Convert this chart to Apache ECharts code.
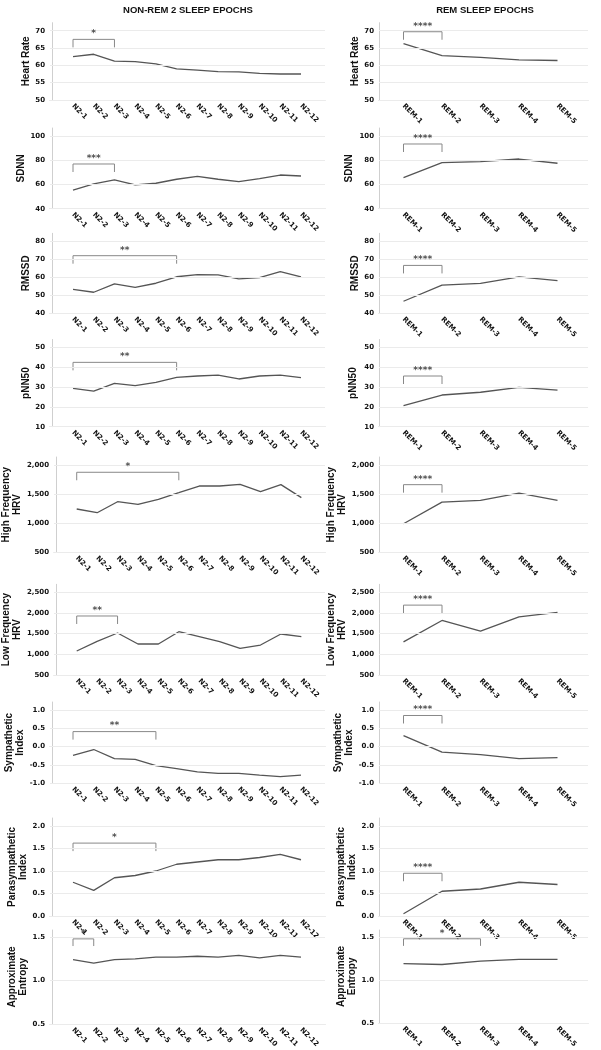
<!DOCTYPE html>
<html><head><meta charset="utf-8">
<script src="https://cdn.jsdelivr.net/npm/echarts@6/dist/echarts.min.js"></script>
<style>html,body{margin:0;padding:0;background:#fff}#c{width:601px;height:1050px}</style>
</head><body><div id="c"></div>
<script>
// ---------------- DATA ----------------
const n2Categories = ['N2-1','N2-2','N2-3','N2-4','N2-5','N2-6','N2-7','N2-8','N2-9','N2-10','N2-11','N2-12'];
const remCategories = ['REM-1','REM-2','REM-3','REM-4','REM-5'];
const columnTitles = ['NON-REM 2 SLEEP EPOCHS', 'REM SLEEP EPOCHS'];
const metricNames = ['Heart Rate','SDNN','RMSSD','pNN50','High Frequency\nHRV','Low Frequency\nHRV','Sympathetic\nIndex','Parasympathetic\nIndex','Approximate\nEntropy'];

const hrTicks = [50, 55, 60, 65, 70];
const sdnnTicks = [40, 60, 80, 100];
const rmssdTicks = [40, 50, 60, 70, 80];
const pnn50Ticks = [10, 20, 30, 40, 50];
const hfTicks = [500, 1000, 1500, 2000];
const lfTicks = [500, 1000, 1500, 2000, 2500];
const sympTicks = [-1.0, -0.5, 0.0, 0.5, 1.0];
const paraTicks = [0.0, 0.5, 1.0, 1.5, 2.0];
const apenTicks = [0.5, 1.0, 1.5];

const hrN2 = [62.5, 63.2, 61.2, 61.1, 60.4, 59.0, 58.6, 58.2, 58.1, 57.7, 57.5, 57.5];
const hrREM = [66.3, 62.8, 62.3, 61.6, 61.4];
const sdnnN2 = [55.4, 60.4, 63.7, 59.6, 61.0, 64.3, 66.7, 64.3, 62.3, 64.8, 67.8, 67.0];
const sdnnREM = [65.6, 78.0, 78.8, 81.0, 77.5];
const rmssdN2 = [53.3, 51.7, 56.4, 54.4, 56.7, 60.3, 61.5, 61.3, 59.1, 59.8, 63.1, 60.2];
const rmssdREM = [46.7, 55.7, 56.6, 60.2, 58.1];
const pnn50N2 = [29.4, 28.0, 31.9, 30.7, 32.4, 34.9, 35.6, 36.0, 34.1, 35.6, 36.0, 34.8];
const pnn50REM = [20.6, 26.0, 27.4, 29.9, 28.5];
const hfN2 = [1244, 1180, 1369, 1325, 1411, 1524, 1639, 1639, 1668, 1541, 1662, 1440];
const hfREM = [990, 1362, 1391, 1517, 1391];
const lfN2 = [1080, 1315, 1516, 1250, 1250, 1547, 1426, 1305, 1145, 1225, 1492, 1426];
const lfREM = [1300, 1819, 1563, 1905, 2012];
const sympN2 = [-0.24, -0.08, -0.33, -0.35, -0.52, -0.60, -0.69, -0.73, -0.73, -0.78, -0.82, -0.78];
const sympREM = [0.30, -0.15, -0.22, -0.33, -0.30];
const paraN2 = [0.75, 0.57, 0.85, 0.90, 1.00, 1.15, 1.20, 1.25, 1.25, 1.30, 1.37, 1.25];
const paraREM = [0.05, 0.55, 0.60, 0.75, 0.70];
const apenN2 = [1.24, 1.20, 1.24, 1.25, 1.27, 1.27, 1.28, 1.27, 1.29, 1.26, 1.29, 1.27];
const apenREM = [1.19, 1.18, 1.22, 1.24, 1.24];

// significance brackets: [from epoch, to epoch, stars]
const hrN2Sig = [1, 3, '*'],      hrREMSig = [1, 2, '****'];
const sdnnN2Sig = [1, 3, '***'],  sdnnREMSig = [1, 2, '****'];
const rmssdN2Sig = [1, 6, '**'],  rmssdREMSig = [1, 2, '****'];
const pnn50N2Sig = [1, 6, '**'],  pnn50REMSig = [1, 2, '****'];
const hfN2Sig = [1, 6, '*'],      hfREMSig = [1, 2, '****'];
const lfN2Sig = [1, 3, '**'],     lfREMSig = [1, 2, '****'];
const sympN2Sig = [1, 5, '**'],   sympREMSig = [1, 2, '****'];
const paraN2Sig = [1, 5, '*'],    paraREMSig = [1, 2, '****'];
const apenN2Sig = [1, 2, '*'],    apenREMSig = [1, 3, '*'];

// ---------------- LAYOUT ----------------
// pixel rows of the top and bottom tick of each metric row
const rowPx = [[30.7,100],[136,208.7],[241.3,313.3],[347.5,426.7],[465,552.3],[592.3,675],[710,783.2],[826,916],[938,1035]];
// bracket heights (axis units) [left, right]
const bracketTop = [[67.5,69.7],[76.9,93.4],[72,66.6],[42.5,35.6],[1875,1662],[1927,2190],[0.41,0.85],[1.62,0.95],[1.48,1.48]];
const nameGaps = [[15,17],[15,24],[15,17],[15,20],[23,26],[23,26],[19,17],[19,19],[19,17]];
const cols = [
  {left:50, right:325, firstPx:73, lastPx:301, titleX:188},
  {left:379, right:588, firstPx:403.5, lastPx:557.5, titleX:485}
];

const rows = [
  [hrTicks, hrN2, hrREM, hrN2Sig, hrREMSig],
  [sdnnTicks, sdnnN2, sdnnREM, sdnnN2Sig, sdnnREMSig],
  [rmssdTicks, rmssdN2, rmssdREM, rmssdN2Sig, rmssdREMSig],
  [pnn50Ticks, pnn50N2, pnn50REM, pnn50N2Sig, pnn50REMSig],
  [hfTicks, hfN2, hfREM, hfN2Sig, hfREMSig],
  [lfTicks, lfN2, lfREM, lfN2Sig, lfREMSig],
  [sympTicks, sympN2, sympREM, sympN2Sig, sympREMSig],
  [paraTicks, paraN2, paraREM, paraN2Sig, paraREMSig],
  [apenTicks, apenN2, apenREM, apenN2Sig, apenREMSig]
];

const EXT = 8; // axis extension above top tick (px)
const grids = [], xAxes = [], yAxes = [], series = [];
const lab = {fontFamily:'DejaVu Sans', fontSize:7, color:'#111', fontWeight:'bold'};

rows.forEach((r, ri) => {
  const ticks = r[0];
  const tMin = ticks[0], tMax = ticks[ticks.length-1];
  const [pxTop, pxBot] = rowPx[ri];
  const upp = (tMax - tMin) / (pxBot - pxTop);
  const yMax = tMax + EXT * upp;
  const dec = ticks.some(t => Math.abs(t - Math.round(t)) > 1e-9);
  [0, 1].forEach(ci => {
    const c = cols[ci];
    const cats = ci === 0 ? n2Categories : remCategories;
    const vals = ci === 0 ? r[1] : r[2];
    const sig = ci === 0 ? r[3] : r[4];
    const n = cats.length;
    const sp = (c.lastPx - c.firstPx) / (n - 1);
    const xMin = 1 - (c.firstPx - c.left) / sp;
    const xMax = n + (c.right - c.lastPx) / sp;
    const gi = grids.length;
    grids.push({left:c.left, top:pxTop - EXT, width:c.right - c.left, height:pxBot - pxTop + EXT});
    const idx = [];
    for (let i = 1; i <= n; i++) idx.push(i);
    xAxes.push({
      type:'value', gridIndex:gi, min:xMin, max:xMax,
      splitLine:{show:false}, axisTick:{show:false},
      axisLine:{show:true, lineStyle:{color:'#cfcfcf', width:1}},
      axisLabel:{customValues:idx, rotate:-45, margin:5, ...lab,
        formatter:v => cats[Math.round(v)-1] || ''}
    });
    yAxes.push({
      type:'value', gridIndex:gi, min:tMin, max:yMax,
      name:metricNames[ri], nameLocation:'middle', nameRotate:90, nameGap:nameGaps[ri][ci],
      nameTextStyle:{fontFamily:'Liberation Sans', fontWeight:'bold', fontSize:10, color:'#111', lineHeight:11},
      splitLine:{show:false}, axisTick:{show:false},
      axisLine:{show:true, lineStyle:{color:'#cfcfcf', width:1}},
      axisLabel:{customValues:ticks, margin:5, ...lab,
        formatter:v => dec ? v.toFixed(1) : v.toLocaleString('en-US')}
    });
    series.push({
      type:'line', xAxisIndex:gi, yAxisIndex:gi, z:3,
      data:vals.map((v,i) => [i+1, v]),
      symbol:'none', lineStyle:{color:'#555', width:1.3}, animation:false, silent:true,
      markLine:{silent:true, symbol:['none','none'], animation:false, label:{show:false},
        lineStyle:{color:'#ebebeb', type:'solid', width:1},
        data:ticks.map(t => ({yAxis:t}))}
    });
    const top = bracketTop[ri][ci];
    const leg = top - 8 * upp;
    series.push({
      type:'line', xAxisIndex:gi, yAxisIndex:gi, z:4, clip:false,
      data:[[sig[0], leg],[sig[0], top],[sig[1], top],[sig[1], leg]],
      symbol:'none', lineStyle:{color:'#888', width:1}, animation:false, silent:true
    });
    series.push({
      type:'scatter', xAxisIndex:gi, yAxisIndex:gi, z:5, clip:false,
      data:[[(sig[0]+sig[1])/2, top]], symbolSize:0, animation:false, silent:true,
      labelLayout:{hideOverlap:false},
      label:{show:true, position:'top', distance:1, formatter:sig[2],
        fontFamily:'DejaVu Sans', fontWeight:'bold', fontSize:9, color:'#222'}
    });
  });
});

const chart = echarts.init(document.getElementById('c'), null, {renderer:'canvas', width:601, height:1050});
chart.setOption({
  animation:false,
  backgroundColor:'#fff',
  grid:grids, xAxis:xAxes, yAxis:yAxes, series:series,
  graphic:columnTitles.map((t, i) => ({
    type:'text', x:cols[i].titleX, y:10, z:100,
    style:{text:t, align:'center', verticalAlign:'middle', font:'bold 9.5px "Liberation Sans"', fill:'#111'}
  }))
});
</script></body></html>
